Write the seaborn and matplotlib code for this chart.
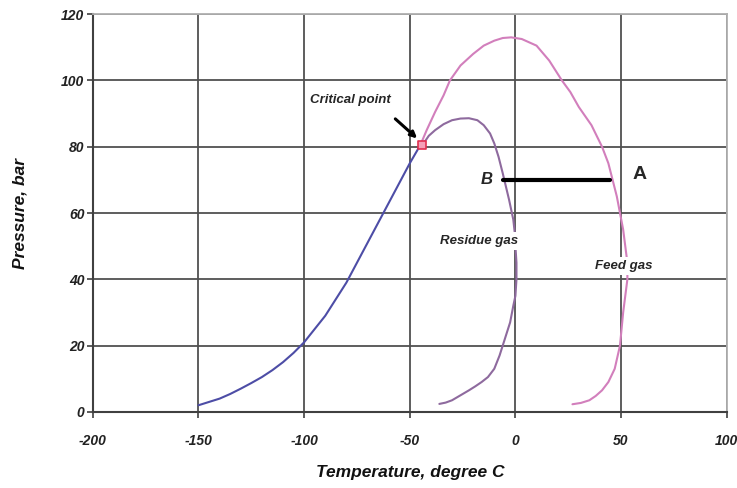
import matplotlib
matplotlib.use("Agg")
import matplotlib.pyplot as plt
import seaborn as sns
import pandas as pd

# Data
bubble_t = [-150, -145, -140, -135, -130, -125, -120, -115, -110, -105, -100, -95, -90, -85,
            -80, -75, -70, -65, -60, -55, -50, -45]
bubble_p = [2, 3, 4, 5.4, 7, 8.7, 10.5, 12.6, 15, 17.8, 21, 25, 29, 34,
            39, 45, 51, 57, 63, 69, 75, 80.5]

feed_t = [-45, -42, -38, -34, -31, -26, -20, -15, -10, -6, -2, 3, 10, 16, 22, 26, 30, 36,
          41, 44, 46, 48, 49.5, 51, 52, 53, 53, 52, 51, 49.5, 47, 44, 41, 38, 35, 31, 27]
feed_p = [80.5, 85, 90.5, 95.5, 100, 104.5, 108, 110.5, 112, 112.8, 113, 112.5, 110.5, 106,
          100, 96.5, 92, 86.5, 80, 75, 70, 65, 60, 55, 50, 45, 40, 35, 30, 20, 13, 9, 6.5, 4.8,
          3.5, 2.7, 2.3]

res_t = [-44, -41, -38, -34, -30, -26, -22, -18, -15, -12, -10, -8, -6, -4.5, -3, -2, -1,
         -0.3, 0, 0.5, 0.5, 0, -1, -2.5, -5, -7.5, -10, -13, -16, -19, -22, -26, -30, -33, -36]
res_p = [80.5, 83.3, 85, 86.8, 88, 88.5, 88.6, 88, 86.5, 84, 81, 77, 72, 68, 64, 61, 58,
         54, 50, 45, 40, 35, 32, 27, 22, 17, 13, 10.5, 9, 7.7, 6.5, 5, 3.5, 2.8, 2.4]

crit_t, crit_p = [-44], [80.5]
ab_t = [-6, 45]
ab_p = [70, 70]

xticks = [-200, -150, -100, -50, 0, 50, 100]
yticks = [0, 20, 40, 60, 80, 100, 120]

sns.set_theme(style="white")
plt.rcParams['font.family'] = ['Liberation Sans', 'DejaVu Sans']
plt.rcParams['axes.unicode_minus'] = False

fig = plt.figure(figsize=(7.37, 4.88), dpi=100)
ax = fig.add_axes([0.126, 0.156, 0.860, 0.815])

df_b = pd.DataFrame({"t": bubble_t, "p": bubble_p})
df_f = pd.DataFrame({"t": feed_t, "p": feed_p})
df_r = pd.DataFrame({"t": res_t, "p": res_p})
df_ab = pd.DataFrame({"t": ab_t, "p": ab_p})

common = dict(x="t", y="p", sort=False, estimator=None, ax=ax)
sns.lineplot(data=df_f, color="#d27fbc", lw=1.5, zorder=3, **common)
sns.lineplot(data=df_r, color="#8e6a9e", lw=1.5, zorder=3, **common)
sns.lineplot(data=df_b, color="#4d4da6", lw=1.5, zorder=4, **common)
sns.lineplot(data=df_ab, color="black", lw=3, zorder=5, **common)
ax.scatter(crit_t, crit_p, marker="s", s=30, facecolors="#f4a0b8", edgecolors="#e03050", lw=1.2, zorder=6)

ax.set_xlim(-200, 100)
ax.set_ylim(0, 120)
ax.set_xticks(xticks)
ax.set_yticks(yticks)
ax.grid(True, color="#505050", lw=1.3)
ax.set_axisbelow(True)
for s in ["top", "right"]:
    ax.spines[s].set_color("#b0b0b0")
    ax.spines[s].set_linewidth(1.3)
for s in ["left", "bottom"]:
    ax.spines[s].set_color("#404040")
    ax.spines[s].set_linewidth(1.5)

ax.tick_params(axis="both", length=4, width=1.2, color="#404040", direction="out",
               left=True, bottom=True)
for lab in ax.get_xticklabels() + ax.get_yticklabels():
    lab.set_fontweight("bold")
    lab.set_fontstyle("italic")
    lab.set_fontsize(10)
    lab.set_color("#222222")
ax.tick_params(axis="x", pad=12)
ax.tick_params(axis="y", pad=2)

ax.set_xlabel("Temperature, degree C", fontsize=12.5, fontweight="bold", fontstyle="italic",
              labelpad=12, color="#111111")
ax.set_ylabel("Pressure, bar", fontsize=12.5, fontweight="bold", fontstyle="italic",
              labelpad=24, color="#111111")

ax.annotate("Critical point", xy=(-46.5, 82.5), xytext=(-78, 94),
            fontsize=9.5, fontweight="bold", fontstyle="italic", ha="center", va="center",
            arrowprops=dict(arrowstyle="-|>", color="black", lw=2.2, mutation_scale=9,
                            shrinkA=10, shrinkB=0, relpos=(0.88, 0.0)), zorder=7)

ax.text(-13.5, 70, "B", fontsize=12, fontweight="bold", fontstyle="italic",
        ha="center", va="center", zorder=7)
ax.text(59, 71.5, "A", fontsize=14, fontweight="bold", ha="center", va="center", zorder=7)
ax.text(-17, 51.5, "Residue gas", fontsize=9.5, fontweight="bold", fontstyle="italic",
        ha="center", va="center", zorder=7,
        bbox=dict(facecolor="white", edgecolor="none", pad=2))
ax.text(51.5, 44, "Feed gas", fontsize=9.5, fontweight="bold", fontstyle="italic",
        ha="center", va="center", zorder=7,
        bbox=dict(facecolor="white", edgecolor="none", pad=2))

fig.savefig("out.png", dpi=100)
